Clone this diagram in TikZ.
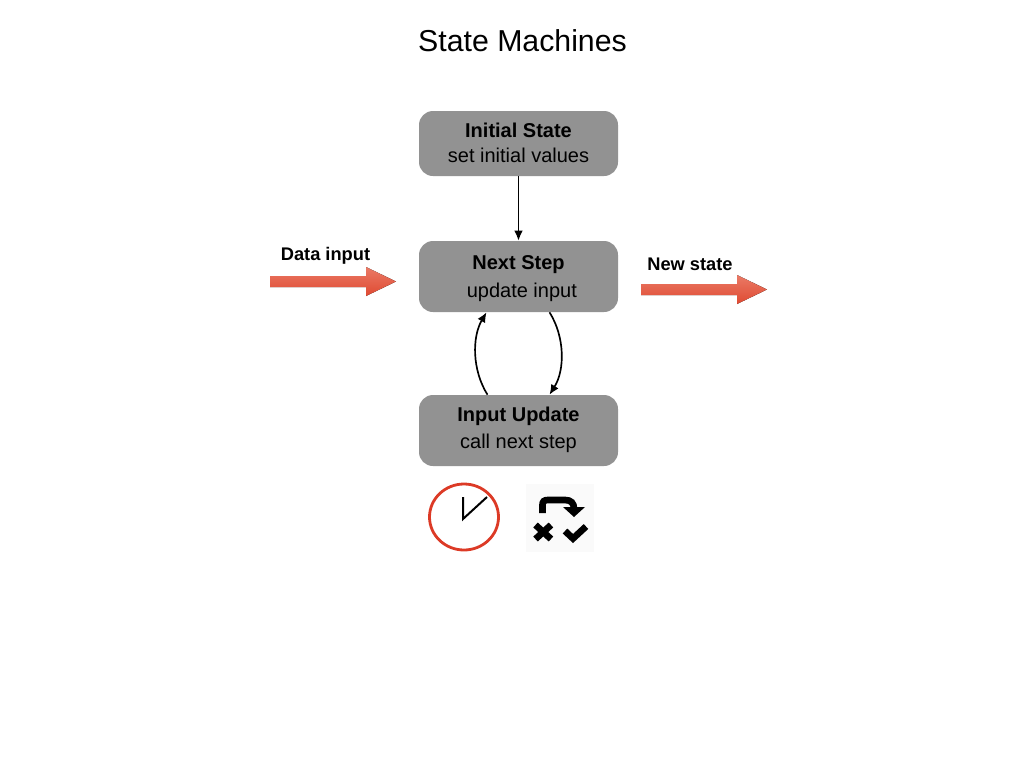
\documentclass[tikz,border=0pt]{standalone}
\usepackage{fontspec}
\setmainfont{Liberation Sans}
\usetikzlibrary{arrows.meta}
\definecolor{boxgray}{HTML}{929292}
\definecolor{arrowtop}{HTML}{EA7A66}
\definecolor{arrowbot}{HTML}{DF4A32}
\definecolor{clockred}{HTML}{DC3A26}
\newcommand{\boxlines}[4]{\raisebox{#1}[0pt][0pt]{\fontsize{15}{#2}\selectfont\begin{tabular}{@{}c@{}}\textbf{#3}\\#4\end{tabular}}}
\tikzset{
  statebox/.style={draw=none,fill=boxgray,rounded corners=10.5pt,minimum width=149.25pt,inner sep=0pt,text=black},
  flow/.style={-{Latex[length=7.5pt,width=6.5pt]},line width=1.25pt,black},
  biglabel/.style={font=\fontsize{13.7}{16}\selectfont\bfseries,text=black,inner sep=0pt},
  fatarrow/.style={bottom color=arrowbot,top color=arrowtop,draw=none},
  icon/.style={black,line width=5pt}
}
\begin{document}
\begin{tikzpicture}[x=0.75pt,y=-0.75pt]
\useasboundingbox (0,0) rectangle (1024,768);
\node[font=\fontsize{22.7}{26}\selectfont,inner sep=0pt] (title) at (522.5,41) {State Machines};
\node[statebox,minimum height=48.75pt] (init) at (518.5,143.5) {\boxlines{-4.5pt}{18.75pt}{Initial State}{set initial values}};
\node[statebox,minimum height=53.25pt] (next) at (518.5,276.5) {\boxlines{-4.8pt}{20.5pt}{Next Step}{\hspace*{5pt}update input}};
\node[statebox,minimum height=53.25pt] (input) at (518.5,430.5) {\boxlines{-3pt}{20.5pt}{Input Update}{call next step}};
\draw[flow] (init.south) -- (next.north);
\draw[flow] ([xshift=-23.25pt]input.north) .. controls (472,370) and (472,337) .. ([xshift=-24pt]next.south);
\draw[flow] ([xshift=23.25pt]next.south) .. controls (565,337) and (565,370) .. ([xshift=23.25pt]input.north);
\node[biglabel] (datalabel) at (325.5,256) {Data input};
\node[biglabel] (statelabel) at (690,264) {New state};
\fill[fatarrow] (270,276) -- (366,276) -- (366,267) -- (396,281.5) -- (366,296) -- (366,287) -- (270,287) -- cycle;
\fill[fatarrow] (641,284) -- (737,284) -- (737,275) -- (767,289.5) -- (737,304) -- (737,295) -- (641,295) -- cycle;
\draw[clockred,line width=2.1pt] (464,517) ellipse (34.5 and 33);
\draw[black,line width=1.5pt] (463,497) -- (463,519) -- (487,497);
\fill[black!2] (526,484) rectangle (594,552);
\draw[icon] (542.5,513) -- (542.5,505) .. controls (542.5,501.5) and (544,500) .. (548,500) -- (565,500) .. controls (571,500) and (574,503) .. (574,509);
\fill[black] (563,507) -- (585,507) -- (574,517) -- cycle;
\draw[icon] (535.5,525) -- (551,539) (551,525) -- (535.5,539);
\draw[icon] (565,531) -- (573,538.5) -- (586,526.5);
\end{tikzpicture}
\end{document}
